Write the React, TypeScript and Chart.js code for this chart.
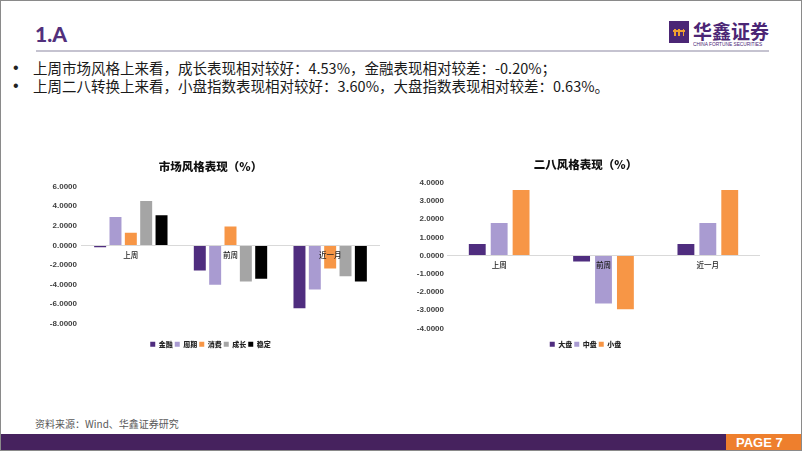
import React, { useEffect, useRef } from "react";
import { Chart, registerables } from "chart.js";

Chart.register(...registerables);

// ---------- data ----------
const categories = ["上周", "前周", "近一月"];

const styleSeriesNames = ["金融", "周期", "消费", "成长", "稳定"];
const finance = [-0.2, -2.56, -6.42];
const cyclical = [2.9, -4.03, -4.5];
const consumer = [1.29, 1.94, -2.36];
const growth = [4.53, -3.69, -3.14];
const stable = [3.07, -3.41, -3.69];

const capSeriesNames = ["大盘", "中盘", "小盘"];
const largeCap = [0.63, -0.33, 0.63];
const midCap = [1.78, -2.64, 1.78];
const smallCap = [3.6, -2.95, 3.6];

const leftTitle = "市场风格表现（%）";
const rightTitle = "二八风格表现（%）";
const bullet1 = "上周市场风格上来看，成长表现相对较好：4.53%，金融表现相对较差：-0.20%；";
const bullet2 = "上周二八转换上来看，小盘指数表现相对较好：3.60%，大盘指数表现相对较差：0.63%。";

const PURPLE = "#4F2D7F";
const LAVENDER = "#A99BD1";
const ORANGE = "#F79646";
const GRAY = "#A5A5A5";
const BLACK = "#000000";

const CJK = '"Noto Sans CJK SC", "Noto Sans", sans-serif';
const NUM = '"Liberation Sans", Arial, sans-serif';

const categoryLabelPlugin = {
  id: "categoryLabels",
  afterDatasetsDraw(chart: any) {
    const { ctx, scales } = chart;
    const xs = scales.x;
    const ys = scales.y;
    const y0 = ys.getPixelForValue(0);
    ctx.save();
    ctx.font = `500 7.5px ${CJK}`;
    ctx.fillStyle = "#1f1f1f";
    ctx.textAlign = "center";
    ctx.textBaseline = "middle";
    chart.data.labels.forEach((lab: string, i: number) => {
      ctx.fillText(lab, xs.getPixelForValue(i), y0 + 10);
    });
    ctx.restore();
  },
};

function makeConfig(opts: {
  title: string;
  names: string[];
  series: number[][];
  colors: string[];
  min: number;
  max: number;
  step: number;
  titleTop: number;
  titleBottom: number;
  padRight: number;
  yWidth: number;
  yPad: number;
  xHeight: number;
  catPct: number;
  barPct: number;
}) {
  return {
    type: "bar" as const,
    data: {
      labels: categories,
      datasets: opts.series.map((d, i) => ({
        label: opts.names[i],
        data: d,
        backgroundColor: opts.colors[i],
        borderWidth: 0,
        categoryPercentage: opts.catPct,
        barPercentage: opts.barPct,
      })),
    },
    options: {
      animation: false,
      responsive: false,
      maintainAspectRatio: false,
      layout: { padding: { top: 0, left: 0, right: opts.padRight, bottom: 3.2 } },
      plugins: {
        title: {
          display: true,
          text: opts.title,
          color: "#111111",
          font: { family: CJK, size: 11.5, weight: "900" },
          padding: { top: opts.titleTop, bottom: opts.titleBottom },
        },
        legend: {
          position: "bottom",
          labels: {
            boxWidth: 5,
            boxHeight: 5,
            padding: 2,
            color: "#262626",
            font: { family: CJK, size: 7, weight: "900" },
          },
        },
        tooltip: { enabled: false },
      },
      scales: {
        x: {
          display: true,
          grid: { display: false },
          border: { display: false },
          ticks: { display: false },
          afterFit: (s: any) => {
            s.height = opts.xHeight;
          },
        },
        y: {
          min: opts.min,
          max: opts.max,
          border: { display: false },
          grid: {
            drawTicks: false,
            color: (c: any) => (c.tick && c.tick.value === 0 ? "#D9D9D9" : "rgba(0,0,0,0)"),
          },
          ticks: {
            stepSize: opts.step,
            padding: opts.yPad,
            color: "#404040",
            font: { family: NUM, size: 8, weight: "bold" },
            callback: (v: any) => Number(v).toFixed(4),
          },
          afterFit: (s: any) => {
            s.width = opts.yWidth;
          },
        },
      },
    },
    plugins: [categoryLabelPlugin],
  };
}

function BarChart({ config, width, height }: { config: any; width: number; height: number }) {
  const ref = useRef<HTMLCanvasElement | null>(null);
  useEffect(() => {
    if (!ref.current) return;
    const chart = new Chart(ref.current, config);
    return () => chart.destroy();
  }, [config]);
  return <canvas ref={ref} width={width} height={height} style={{ width, height, display: "block" }} />;
}

const leftConfig = makeConfig({
  title: leftTitle,
  names: styleSeriesNames,
  series: [finance, cyclical, consumer, growth, stable],
  colors: [PURPLE, LAVENDER, ORANGE, GRAY, BLACK],
  min: -8,
  max: 6,
  step: 2,
  titleTop: 9,
  titleBottom: 12.9,
  padRight: 11,
  yWidth: 40,
  yPad: 4,
  xHeight: 15.1,
  catPct: 0.77,
  barPct: 0.78,
});

const rightConfig = makeConfig({
  title: rightTitle,
  names: capSeriesNames,
  series: [largeCap, midCap, smallCap],
  colors: [PURPLE, LAVENDER, ORANGE],
  min: -4,
  max: 4,
  step: 1,
  titleTop: 7,
  titleBottom: 10.9,
  padRight: 21,
  yWidth: 36,
  yPad: 3,
  xHeight: 10.5,
  catPct: 0.63,
  barPct: 0.77,
});

export default function App() {
  useEffect(() => {
    document.body.style.margin = "0";
  }, []);
  const abs = (s: React.CSSProperties): React.CSSProperties => ({ position: "absolute", ...s });
  return (
    <div
      style={{
        position: "fixed",
        left: 0,
        top: 0,
        width: 802,
        height: 451,
        overflow: "hidden",
        background: "#fff",
        boxSizing: "border-box",
        border: "1px solid #8a8a8a",
        fontFamily: CJK,
      }}
    >
      {/* header */}
      <div
        style={abs({
          left: 34,
          top: 22,
          fontFamily: 'Lato, "Open Sans", sans-serif',
          fontWeight: 900,
          fontSize: 21,
          lineHeight: "21px",
          color: "#52307C",
        })}
      >
        1.A
      </div>
      <div style={abs({ left: 35, top: 49, width: 733, height: 2, background: "#C5C3D0" })} />
      {/* logo */}
      <div style={abs({ left: 668, top: 20, width: 20, height: 22, background: "#4B2675" })}>
        <div style={abs({ left: 4, top: 9, width: 12, height: 2, background: "#F0A030" })} />
        <div style={abs({ left: 5, top: 8, width: 1.5, height: 7, background: "#F0A030" })} />
        <div style={abs({ left: 9.3, top: 8, width: 1.5, height: 7, background: "#F0A030" })} />
        <div style={abs({ left: 13.5, top: 8, width: 1.5, height: 7, background: "#F0A030" })} />
      </div>
      <div
        style={abs({
          left: 692,
          top: 19,
          fontSize: 19,
          lineHeight: "22px",
          fontWeight: 700,
          color: "#4B2675",
          letterSpacing: 0,
          whiteSpace: "nowrap",
        })}
      >
        华鑫证券
      </div>
      <div
        style={abs({
          left: 692,
          top: 41,
          fontSize: 8,
          lineHeight: "8px",
          color: "#4B2675",
          fontFamily: NUM,
          whiteSpace: "nowrap",
          transform: "scale(0.6)",
          transformOrigin: "0 0",
        })}
      >
        CHINA FORTUNE SECURITIES
      </div>
      {/* bullets */}
      {[bullet1, bullet2].map((t, i) => (
        <div key={i} style={abs({ left: 0, top: 58 + i * 18.3, height: 18, width: 780 })}>
          <span style={abs({ left: 12, top: 0, fontSize: 16, lineHeight: "18px", color: "#222", fontFamily: NUM })}>•</span>
          <span
            style={abs({
              left: 32,
              top: 0,
              fontSize: 14.5,
              lineHeight: "18px",
              color: "#1a1a1a",
              whiteSpace: "nowrap",
            })}
          >
            {t}
          </span>
        </div>
      ))}
      {/* charts */}
      <div style={abs({ left: 40, top: 150 })}>
        <BarChart config={leftConfig} width={350} height={210} />
      </div>
      <div style={abs({ left: 410, top: 150 })}>
        <BarChart config={rightConfig} width={370} height={210} />
      </div>
      {/* footer */}
      <div
        style={abs({
          left: 34,
          top: 416,
          fontSize: 10,
          lineHeight: "14px",
          color: "#595959",
          whiteSpace: "nowrap",
        })}
      >
        资料来源：Wind、华鑫证券研究
      </div>
      <div style={abs({ left: 0, top: 433, width: 802, height: 18, background: "#46225E" })} />
      <div
        style={abs({
          left: 725,
          top: 433,
          width: 77,
          height: 18,
          background: "#EE7F2D",
          color: "#fff",
          fontFamily: '"Liberation Sans Narrow", "Liberation Sans", sans-serif',
          fontWeight: 700,
          fontSize: 13,
          lineHeight: "18px",
          paddingLeft: 10,
          boxSizing: "border-box",
        })}
      >
        PAGE 7
      </div>
    </div>
  );
}
